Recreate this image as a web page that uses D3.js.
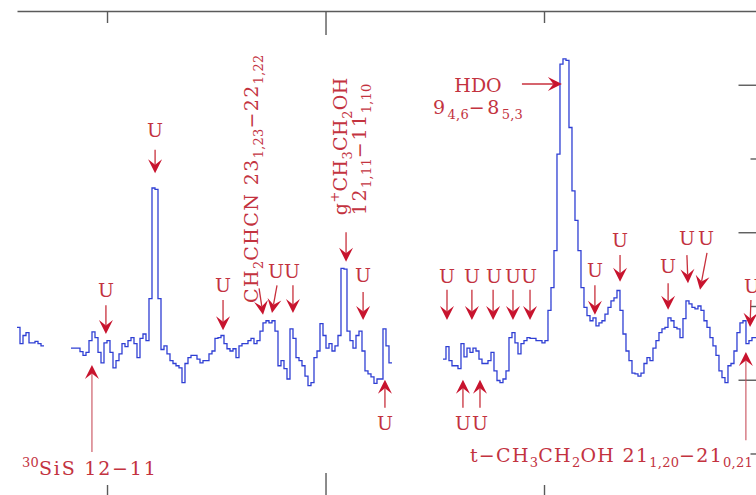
<!DOCTYPE html>
<html><head><meta charset="utf-8">
<script src="https://cdn.jsdelivr.net/npm/d3@7"></script>
<style>
html,body{margin:0;padding:0;background:#fff;}
svg{display:block;}
</style></head><body>
<svg id="chart" width="756" height="495"></svg>
<script>
// ---- data ----
const fStart = -14.12;      // frequency offset (MHz) of left edge of channel 0
const chanWidth = 0.1373;   // channel width (MHz)
const intensity = [
  0.71,0.49,0.60,0.64,0.50,0.50,0.52,0.49,0.46,
  null,null,null,null,null,null,null,null,null,
  0.43,0.43,0.43,0.38,0.33,0.37,0.53,0.65,0.57,0.37,0.23,0.50,0.53,
  0.37,0.16,0.26,0.35,0.49,0.45,0.53,0.57,0.49,0.30,
  0.56,0.62,0.53,1.10,2.60,2.58,1.10,0.41,0.46,0.35,
  0.26,0.22,0.19,0.16,-0.04,0.22,0.30,0.33,0.33,0.28,
  0.23,0.26,0.26,0.35,0.39,0.56,0.57,0.60,0.49,0.42,
  0.39,0.42,0.30,0.46,0.49,0.49,0.53,0.56,0.49,0.53,
  0.66,0.77,0.80,0.77,0.80,0.66,0.19,0.26,0.15,0.01,
  0.69,0.56,0.30,0.26,0.19,0.05,-0.08,-0.04,0.30,0.39,
  0.76,0.60,0.43,0.49,0.39,0.46,0.60,1.51,1.50,0.66,
  0.53,0.43,0.60,0.66,0.39,0.12,0.08,0.04,-0.05,0.01,
  0.01,0.69,0.46,0.23,
  null,null,null,null,null,null,null,null,null,null,null,null,null,null,null,null,null,
  0.28,0.45,0.26,0.19,0.19,0.15,0.49,0.31,0.43,
  0.37,0.43,0.39,0.28,0.22,0.22,0.26,0.37,0.12,-0.01,
  -0.04,0.01,0.12,0.57,0.64,0.50,0.35,0.49,0.53,0.57,
  0.56,0.56,0.53,0.53,0.50,0.53,0.94,1.25,1.75,3.06,
  4.28,4.35,4.33,3.42,2.56,2.16,1.75,1.25,0.98,0.87,
  0.80,0.84,0.73,0.77,0.80,0.89,0.98,1.07,1.11,1.21,
  0.94,0.62,0.39,0.26,0.09,0.08,0.05,0.09,0.22,0.30,
  0.26,0.43,0.53,0.64,0.69,0.71,0.84,0.80,0.71,0.69,
  0.57,0.83,1.07,1.03,0.98,0.96,1.00,0.94,0.80,0.71,
  0.57,0.46,0.33,0.12,0.03,-0.04,0.19,0.22,0.39,0.64,
  0.77,0.80,0.49,0.53,0.57,0.57
];
const xDomain = [-14.12, 20.0];
const yDomain = [-1.59, 5.0];
const xTicksMajor = [0];
const xTicksMinor = [-10, 10];
const yTicksMajor = [0, 2, 4];
const yTicksMinor = [-1, 1, 3];

// unidentified-line markers: label position, arrow tail, arrow tip (data units)
const uMarks = [
  [-10.05, 1.12, -10.05, 1.01, -10.05, 0.62],
  [-7.80, 3.29, -7.80, 3.12, -7.80, 2.80],
  [-4.69, 1.19, -4.69, 1.08, -4.69, 0.67],
  [-2.27, 1.38, -2.22, 1.28, -2.45, 0.905],
  [-1.53, 1.38, -1.49, 1.28, -1.49, 0.905],
  [1.72, 1.325, 1.72, 1.19, 1.72, 0.81],
  [2.72, -0.68, 2.72, -0.38, 2.72, 0.0],
  [5.56, 1.31, 5.56, 1.22, 5.56, 0.81],
  [6.70, 1.31, 6.70, 1.22, 6.70, 0.81],
  [7.71, 1.31, 7.67, 1.22, 7.67, 0.81],
  [8.58, 1.31, 8.58, 1.22, 8.58, 0.81],
  [9.31, 1.31, 9.36, 1.22, 9.36, 0.81],
  [6.29, -0.68, 6.29, -0.38, 6.29, 0.0],
  [7.07, -0.68, 7.07, -0.38, 7.07, 0.0],
  [12.33, 1.39, 12.33, 1.28, 12.33, 0.88],
  [13.48, 1.80, 13.48, 1.69, 13.48, 1.33],
  [15.68, 1.45, 15.68, 1.31, 15.68, 0.95],
  [16.54, 1.83, 16.54, 1.69, 16.59, 1.31],
  [17.41, 1.83, 17.46, 1.72, 17.14, 1.22],
  [19.52, 1.18, 19.47, 1.08, 19.43, 0.715]
];
// identified-line arrows: tail x,y -> tip x,y ; thin = long pale arrow
const lineArrows = [
  [-3.04, 1.24, -2.86, 0.88, false],
  [0.94, 2.00, 0.94, 1.60, false],
  [8.99, 4.01, 10.82, 4.01, false],
  [-10.69, -0.98, -10.69, 0.20, true],
  [19.24, -0.82, 19.24, 0.376, true]
];
// identified-line labels: text, x, y, anchor, rotated, extra letter spacing
const lineLabels = [
  ["CH_{2}CHCN 23_{1,23}\u221222_{1,22}", -3.09, 1.04, "start", true, 1.4],
  ["g^{+}CH_{3}CH_{2}OH", 0.98, 2.23, "start", true, 0.5],
  ["12_{1,11}\u221211_{1,10}", 1.85, 2.23, "start", true, 1.6],
  ["HDO", 6.98, 3.90, "middle", false, 0],
  ["9_{4,6}\u22128_{5,3}", 6.98, 3.60, "middle", false, 2.4],
  ["^{30}SiS 12\u221211", -13.89, -1.29, "start", false, 1.8],
  ["t\u2212CH_{3}CH_{2}OH 21_{1,20}\u221221_{0,21}", 6.61, -1.12, "start", false, 1.3]
];

// ---- drawing ----
const svg = d3.select("#chart");
const x = d3.scaleLinear().domain(xDomain).range([17, 762.5]);
const y = d3.scaleLinear().domain(yDomain).range([497, 11]);
const RED = "#c8142e", TXT = "#c3333f", AX = "#5a5a5a";

function axis(gen, tr, vals, size, withDomain) {
  const g = svg.append("g").attr("transform", tr)
    .call(gen.tickValues(vals).tickSizeInner(-size).tickSizeOuter(0).tickFormat(""));
  g.selectAll("line").attr("stroke", AX).attr("stroke-width", 1.4);
  g.select(".domain").attr("stroke", withDomain ? AX : "none").attr("stroke-width", 1.5);
  g.selectAll("text").remove();
}
axis(d3.axisTop(x), "translate(0,11)", xTicksMajor, 24, true);
axis(d3.axisTop(x), "translate(0,11)", xTicksMinor, 12, false);
axis(d3.axisBottom(x), "translate(0,497)", xTicksMajor, 24, true);
axis(d3.axisBottom(x), "translate(0,497)", xTicksMinor, 12, false);
axis(d3.axisRight(y), "translate(762.5,0)", yTicksMajor, 24, true);
axis(d3.axisRight(y), "translate(762.5,0)", yTicksMinor, 12, false);

// step spectrum
const pts = [];
intensity.forEach((v, i) => {
  const left = fStart + i * chanWidth;
  if (v == null) { pts.push({f: left, v: null}); return; }
  pts.push({f: left, v});
  const nxt = intensity[i + 1];
  if (nxt == null) pts.push({f: left + chanWidth, v});
});
const line = d3.line().defined(d => d.v != null)
  .x(d => x(d.f)).y(d => y(d.v)).curve(d3.curveStepAfter);
svg.append("path").attr("d", line(pts)).attr("fill", "none")
  .attr("stroke", "#2f3fd4").attr("stroke-width", 1.3).attr("stroke-linejoin", "miter");

// arrows
function arrow(x1, y1, x2, y2, thin) {
  const X1 = x(x1), Y1 = y(y1), X2 = x(x2), Y2 = y(y2);
  const ang = Math.atan2(Y2 - Y1, X2 - X1);
  const L = 14, W = 7, N = 8.5;
  const bx = X2 - Math.cos(ang) * N, by = Y2 - Math.sin(ang) * N;
  svg.append("line").attr("x1", X1).attr("y1", Y1).attr("x2", bx).attr("y2", by)
    .attr("stroke", thin ? "#c9505c" : "#c8303c").attr("stroke-width", thin ? 1.1 : 1.3);
  const c = Math.cos(ang), s = Math.sin(ang);
  const P = (u, w) => [X2 + u * c - w * s, Y2 + u * s + w * c];
  const head = [P(0, 0), P(-L, -W), P(-N, 0), P(-L, W)];
  svg.append("path").attr("d", "M" + head.map(p => p.join(",")).join("L") + "Z")
    .attr("fill", RED);
}

function rich(sel, str) {
  const parts = str.split(/(_\{[^}]*\}|\^\{[^}]*\})/).filter(s => s.length);
  let shift = 0;
  parts.forEach(p => {
    let target = 0, small = false, txt = p;
    if (p.startsWith("_{")) { target = 5; small = true; txt = p.slice(2, -1); }
    else if (p.startsWith("^{")) { target = -8; small = true; txt = p.slice(2, -1); }
    const t = sel.append("tspan").attr("dy", target - shift).text(txt);
    if (small) t.attr("font-size", "13px").attr("letter-spacing", 0.2);
    shift = target;
  });
}

const fontFam = "'DejaVu Serif', 'Liberation Serif', serif";
uMarks.forEach(m => {
  arrow(m[2], m[3], m[4], m[5], false);
  svg.append("text").attr("x", x(m[0])).attr("y", y(m[1]))
    .attr("text-anchor", "middle").attr("font-family", fontFam)
    .attr("font-size", 19).attr("fill", TXT).text("U");
});
lineArrows.forEach(a => arrow(a[0], a[1], a[2], a[3], a[4]));
lineLabels.forEach(l => {
  const t = svg.append("text").attr("font-family", fontFam).attr("font-size", 19)
    .attr("fill", TXT).attr("text-anchor", l[3]).attr("letter-spacing", l[5]);
  if (l[4]) t.attr("transform", `translate(${x(l[1])},${y(l[2])}) rotate(-90)`);
  else t.attr("x", x(l[1])).attr("y", y(l[2]));
  rich(t, l[0]);
});
</script>
</body></html>
